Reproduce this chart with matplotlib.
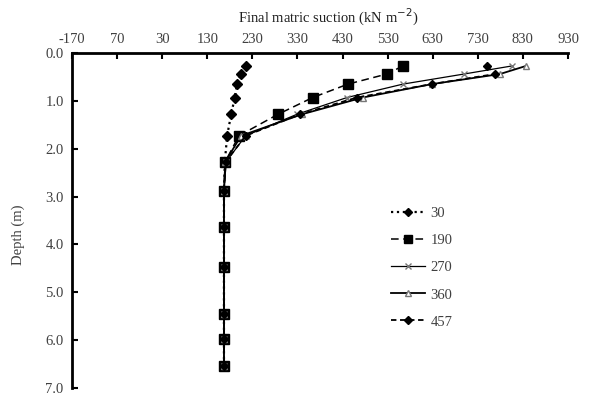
import numpy as np
import matplotlib
matplotlib.use('Agg')
import matplotlib.pyplot as plt
from matplotlib.ticker import FixedLocator, FixedFormatter

plt.rcParams['font.family'] = ['Liberation Serif', 'DejaVu Serif']

# depth of the sampling points (m)
depth = [0.27, 0.44, 0.65, 0.93, 1.28, 1.73, 2.27, 2.88, 3.64, 4.48, 5.45, 5.98, 6.53]

# final matric suction (kN m-2) for each day
s30 = [216, 205, 196, 191, 183, 174, 169, 167, 167, 167, 167, 167, 167]
s190 = [564, 528, 442, 364, 287, 200, 170, 167, 167, 167, 167, 167, 167]
s270 = [806, 699, 564, 440, 329, 215, 172, 167, 167, 167, 167, 167, 167]
s360 = [837, 779, 628, 475, 340, 205, 170, 167, 167, 167, 167, 167, 167]
s457 = [750, 768, 628, 462, 336, 215, 171, 167, 167, 167, 167, 167, 167]

x_ticks = [-170, -70, 30, 130, 230, 330, 430, 530, 630, 730, 830, 930]
x_ticklabels = ['-170', '70', '30', '130', '230', '330', '430', '530', '630', '730', '830', '930']
y_ticks = [0, 1, 2, 3, 4, 5, 6, 7]

fig = plt.figure(figsize=(5.89, 3.97), dpi=100)
ax = fig.add_axes([72/589, 1-388/397, 496/589, 335/397])

ax.plot(s30, depth, color='black', linestyle=':', linewidth=1.6,
        marker='D', markersize=5.5, label='30')
ax.plot(s190, depth, color='black', linestyle=(0, (5, 3)), linewidth=1.1,
        marker='s', markersize=6.5, label='190')
ax.plot(s270, depth, color='black', linestyle='-', linewidth=0.9,
        marker='x', markersize=5, markeredgecolor='#777777', label='270')
ax.plot(s360, depth, color='black', linestyle='-', linewidth=1.3,
        marker='^', markersize=5, markerfacecolor='white', markeredgecolor='#777777',
        label='360')
ax.plot(s457, depth, color='black', linestyle=(0, (3, 2)), linewidth=1.3,
        marker='D', markersize=4.5, label='457')

ax.set_xlim(-170, 930)
ax.set_ylim(7, 0)

ax.xaxis.set_major_locator(FixedLocator(x_ticks))
ax.xaxis.set_major_formatter(FixedFormatter(x_ticklabels))
ax.xaxis.tick_top()
ax.xaxis.set_label_position('top')
ax.set_yticks(y_ticks)
ax.set_yticklabels(['%.1f' % v for v in y_ticks])

ax.tick_params(axis='both', direction='in', length=4, width=1.5,
               labelsize=10.5, colors='black', labelcolor='#404040')
ax.tick_params(axis='x', pad=5)
ax.tick_params(axis='y', pad=6)

for side in ['right', 'bottom']:
    ax.spines[side].set_visible(False)
for side in ['top', 'left']:
    ax.spines[side].set_linewidth(2)

fig.text(328/589, 1-17/397, 'Final matric suction (kN m$^{-2}$)',
         ha='center', va='center', fontsize=10.5, color='#202020')
fig.text(18/589, 1-235/397, 'Depth (m)', rotation=90,
         ha='center', va='center', fontsize=10.5, color='#404040')

leg = ax.legend(loc='upper left', bbox_to_anchor=(378/589, 1-194/397),
                bbox_transform=fig.transFigure, frameon=False, fontsize=10.5,
                handlelength=2.3, handletextpad=0.4, labelspacing=0.95,
                markerscale=0.8)
for t in leg.get_texts():
    t.set_color('#404040')

fig.savefig('out.png', dpi=100)
